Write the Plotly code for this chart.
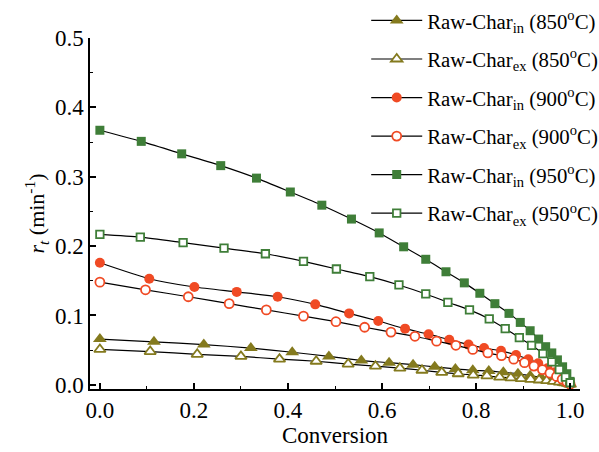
import plotly.graph_objects as go

# Reaction rate r_t versus conversion for raw char, intrinsic (in) and external (ex)
x_850_in = [0, 0.115, 0.221, 0.321, 0.409, 0.487, 0.556, 0.615, 0.666, 0.712, 0.756, 0.793,
            0.827, 0.858, 0.889, 0.915, 0.938, 0.957, 0.973, 0.986, 0.995, 1.0]
y_850_in = [0.066, 0.062, 0.058, 0.053, 0.047, 0.041, 0.035, 0.032, 0.029, 0.026, 0.023, 0.021,
            0.020, 0.018, 0.016, 0.013, 0.011, 0.007, 0.005, 0.003, 0.002, 0.001]

x_850_ex = [0, 0.107, 0.207, 0.300, 0.382, 0.460, 0.528, 0.586, 0.638, 0.685, 0.727, 0.762,
            0.794, 0.823, 0.850, 0.874, 0.896, 0.916, 0.934, 0.950, 0.964, 0.977, 0.988, 0.996, 1.0]
y_850_ex = [0.051, 0.048, 0.044, 0.041, 0.037, 0.034, 0.030, 0.027, 0.024, 0.021, 0.018, 0.016,
            0.014, 0.013, 0.011, 0.010, 0.009, 0.008, 0.007, 0.006, 0.005, 0.004, 0.003, 0.002, 0.001]

x_900_in = [0, 0.105, 0.201, 0.291, 0.378, 0.458, 0.530, 0.592, 0.649, 0.699, 0.743, 0.784,
            0.817, 0.853, 0.885, 0.911, 0.932, 0.952, 0.968, 0.981, 0.993, 1.0]
y_900_in = [0.176, 0.153, 0.141, 0.134, 0.127, 0.116, 0.103, 0.092, 0.081, 0.073, 0.065, 0.058,
            0.053, 0.049, 0.043, 0.037, 0.031, 0.024, 0.018, 0.011, 0.005, 0.001]

x_900_ex = [0, 0.097, 0.188, 0.275, 0.354, 0.433, 0.502, 0.563, 0.619, 0.670, 0.716, 0.757,
            0.793, 0.825, 0.854, 0.880, 0.903, 0.923, 0.941, 0.957, 0.971, 0.983, 0.993, 1.0]
y_900_ex = [0.148, 0.137, 0.127, 0.117, 0.108, 0.099, 0.091, 0.083, 0.076, 0.070, 0.063, 0.057,
            0.051, 0.046, 0.042, 0.037, 0.032, 0.027, 0.022, 0.017, 0.012, 0.008, 0.004, 0.001]

x_950_in = [0, 0.088, 0.174, 0.257, 0.333, 0.405, 0.472, 0.535, 0.594, 0.646, 0.693, 0.736,
            0.775, 0.808, 0.840, 0.870, 0.894, 0.915, 0.933, 0.948, 0.961, 0.973, 0.984, 0.993, 1.0]
y_950_in = [0.367, 0.351, 0.333, 0.316, 0.298, 0.278, 0.259, 0.239, 0.219, 0.199, 0.181, 0.163,
            0.147, 0.132, 0.117, 0.103, 0.090, 0.078, 0.066, 0.055, 0.046, 0.036, 0.026, 0.016, 0.005]

x_950_ex = [0, 0.086, 0.177, 0.264, 0.352, 0.433, 0.503, 0.574, 0.636, 0.693, 0.740, 0.786,
            0.828, 0.862, 0.892, 0.918, 0.942, 0.961, 0.977, 0.990, 1.0]
y_950_ex = [0.217, 0.213, 0.205, 0.197, 0.189, 0.178, 0.167, 0.156, 0.144, 0.131, 0.119, 0.108,
            0.095, 0.081, 0.068, 0.057, 0.045, 0.033, 0.022, 0.011, 0.003]

names = [
    "Raw-Char<sub>in</sub> (850<sup>o</sup>C)",
    "Raw-Char<sub>ex</sub> (850<sup>o</sup>C)",
    "Raw-Char<sub>in</sub> (900<sup>o</sup>C)",
    "Raw-Char<sub>ex</sub> (900<sup>o</sup>C)",
    "Raw-Char<sub>in</sub> (950<sup>o</sup>C)",
    "Raw-Char<sub>ex</sub> (950<sup>o</sup>C)",
]

OLIVE = "#847a1e"
RED = "#f04a24"
GREEN = "#3f7e38"

series = [
    (x_850_in, y_850_in, "triangle-up", OLIVE, True, 12),
    (x_850_ex, y_850_ex, "triangle-up", OLIVE, False, 10),
    (x_900_in, y_900_in, "circle", RED, True, 10),
    (x_900_ex, y_900_ex, "circle", RED, False, 9),
    (x_950_in, y_950_in, "square", GREEN, True, 9),
    (x_950_ex, y_950_ex, "square", GREEN, False, 7.5),
]

fig = go.Figure()
for i, ((xs, ys, sym, col, filled, size), name) in enumerate(zip(series, names)):
    fig.add_trace(go.Scatter(
        x=xs, y=ys, name=name, mode="lines+markers", legendgroup=f"g{i}",
        line=dict(color="black", width=1.2, shape="spline", smoothing=0.6),
        marker=dict(symbol=sym, size=size,
                    color=col if filled else "white",
                    line=dict(color=col, width=0 if filled else 1.8)),
    ))

serif = "Liberation Serif, Times New Roman, serif"

fig.update_layout(
    width=599, height=452,
    margin=dict(l=90, r=19, t=38, b=63, autoexpand=False),
    paper_bgcolor="white", plot_bgcolor="white",
    font=dict(family=serif, size=23, color="black"),
    showlegend=True,
    legend=dict(
        x=0.5637, y=1.107, xanchor="left", yanchor="top",
        bgcolor="rgba(0,0,0,0)", font=dict(family=serif, size=20.8),
        traceorder="grouped", tracegroupgap=8.5, itemwidth=51, maxheight=440,
    ),
    xaxis=dict(
        range=[-0.021, 1.021], tickvals=[0, 0.2, 0.4, 0.6, 0.8, 1.0],
        ticktext=["0.0", "0.2", "0.4", "0.6", "0.8", "1.0"],
        showline=True, linecolor="black", linewidth=1.5, mirror=False,
        ticks="inside", ticklen=6, tickwidth=1.5, tickcolor="black",
        minor=dict(ticks="inside", ticklen=3, tickwidth=1.2, tickcolor="black", dtick=0.1),
        showgrid=False, zeroline=False,
        title=dict(text="Conversion", standoff=2, font=dict(size=23)),
    ),
    yaxis=dict(
        range=[-0.006, 0.5], tickvals=[0, 0.1, 0.2, 0.3, 0.4, 0.5],
        ticktext=["0.0", "0.1", "0.2", "0.3", "0.4", "0.5"],
        showline=True, linecolor="black", linewidth=1.5, mirror=False,
        ticks="inside", ticklen=6, tickwidth=1.5, tickcolor="black",
        minor=dict(ticks="inside", ticklen=3, tickwidth=1.2, tickcolor="black", dtick=0.05),
        showgrid=False, zeroline=False,
        title=dict(text="<i>r</i><sub><i>t</i></sub> (min<sup>-1</sup>)", standoff=4,
                   font=dict(size=22)),
    ),
)

fig.write_html("out.html")
